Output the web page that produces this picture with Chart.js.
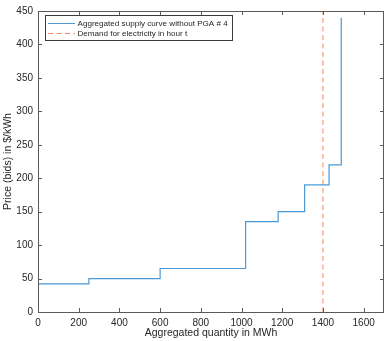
<!DOCTYPE html>
<html>
<head>
<meta charset="utf-8">
<script src="https://cdn.jsdelivr.net/npm/chart.js@4"></script>
<style>
  html, body { margin: 0; padding: 0; background: #fff; }
  #wrap { width: 386px; height: 341px; }
</style>
</head>
<body>
<div id="wrap"><canvas id="myChart"></canvas></div>
<script>
// supply bids: each block starts at a quantity and is offered at a price
let quantities = [0, 250, 600, 1020, 1180, 1310, 1430, 1490];
let prices = [42, 50, 65, 135, 150, 190, 220, 440];
let demandQuantity = 1400;
let xTicks = [0, 200, 400, 600, 800, 1000, 1200, 1400, 1600];
let yTicks = [0, 50, 100, 150, 200, 250, 300, 350, 400, 450];

let supplyColor = "#4a9ad8";
let demandColor = "#f2895a";
let axisColor = "#5a5a5a";
let textColor = "#262626";
let fontFamily = "'Liberation Sans', Arial, sans-serif";

let supplyPoints = quantities.map((q, i) => ({ x: q, y: prices[i] }));
let demandPoints = [{ x: demandQuantity, y: 0 }, { x: demandQuantity, y: 450 }];

// box round the axes with inward tick marks, plus legend inside the plot
let boxPlugin = {
  id: "box",
  afterDraw(chart) {
    let ctx = chart.ctx;
    let a = chart.chartArea;
    let xs = chart.scales.x;
    let ys = chart.scales.y;
    ctx.save();
    ctx.strokeStyle = axisColor;
    ctx.lineWidth = 1;
    ctx.strokeRect(Math.round(a.left) + 0.5, Math.round(a.top) + 0.5,
      Math.round(a.right - a.left) - 1, Math.round(a.bottom - a.top));
    ctx.beginPath();
    xTicks.forEach(v => {
      let px = Math.round(xs.getPixelForValue(v)) + 0.5;
      ctx.moveTo(px, a.bottom); ctx.lineTo(px, a.bottom - 4);
      ctx.moveTo(px, a.top); ctx.lineTo(px, a.top + 4);
    });
    yTicks.forEach(v => {
      let py = Math.round(ys.getPixelForValue(v)) + 0.5;
      ctx.moveTo(a.left, py); ctx.lineTo(a.left + 4, py);
      ctx.moveTo(a.right, py); ctx.lineTo(a.right - 4, py);
    });
    ctx.stroke();

    // legend
    let lx = 45.5, ly = 15.5, lw = 187, lh = 25;
    ctx.fillStyle = "#fff";
    ctx.fillRect(lx, ly, lw, lh);
    ctx.strokeStyle = "#3a3a3a";
    ctx.strokeRect(lx, ly, lw, lh);
    ctx.font = "8.1px " + fontFamily;
    ctx.textBaseline = "middle";
    chart.data.datasets.forEach((ds, i) => {
      let yy = 23.5 + i * 10;
      ctx.strokeStyle = ds.borderColor;
      ctx.lineWidth = 1;
      ctx.setLineDash(ds.borderDash || []);
      ctx.beginPath();
      ctx.moveTo(48, yy); ctx.lineTo(75, yy);
      ctx.stroke();
      ctx.setLineDash([]);
      ctx.fillStyle = textColor;
      ctx.fillText(ds.label, 77.5, yy);
    });
    ctx.restore();
  }
};

let myChart = document.getElementById("myChart").getContext("2d");

let supplyChart = new Chart(myChart, {
  type: "scatter",
  data: {
    datasets: [
      {
        label: "Aggregated supply curve without PGA # 4",
        data: supplyPoints,
        showLine: true,
        stepped: "before",
        borderColor: supplyColor,
        borderWidth: 1.2,
        pointRadius: 0,
      },
      {
        label: "Demand for electricity in hour t",
        data: demandPoints,
        showLine: true,
        borderColor: demandColor,
        borderWidth: 1,
        borderDash: [5, 3.5],
        pointRadius: 0,
      },
    ],
  },
  options: {
    responsive: true,
    maintainAspectRatio: false,
    animation: false,
    events: [],
    layout: { padding: { top: 10, right: 2, left: 0, bottom: 0 } },
    plugins: {
      legend: { display: false },
      tooltip: { enabled: false },
    },
    scales: {
      x: {
        type: "linear",
        min: 0,
        max: 1700,
        afterBuildTicks(scale) { scale.ticks = xTicks.map(v => ({ value: v })); },
        afterFit(scale) { scale.height = 29; },
        grid: { display: false, drawTicks: false },
        border: { display: false },
        ticks: {
          color: textColor,
          padding: 5,
          font: { family: fontFamily, size: 10 },
          callback: v => String(v),
        },
        title: {
          display: true,
          text: "Aggregated quantity in MWh",
          color: textColor,
          padding: { top: 0, bottom: 2 },
          font: { family: fontFamily, size: 10.5 },
        },
      },
      y: {
        type: "linear",
        min: 0,
        max: 450,
        afterBuildTicks(scale) { scale.ticks = yTicks.map(v => ({ value: v })); },
        afterFit(scale) { scale.width = 38; },
        grid: { display: false, drawTicks: false },
        border: { display: false },
        ticks: {
          color: textColor,
          padding: 5,
          font: { family: fontFamily, size: 10 },
          callback: v => String(v),
        },
        title: {
          display: true,
          text: "Price (bids) in $/kWh",
          color: textColor,
          padding: { top: 2, bottom: 0 },
          font: { family: fontFamily, size: 10.5 },
        },
      },
    },
  },
  plugins: [boxPlugin],
});
</script>
</body>
</html>
